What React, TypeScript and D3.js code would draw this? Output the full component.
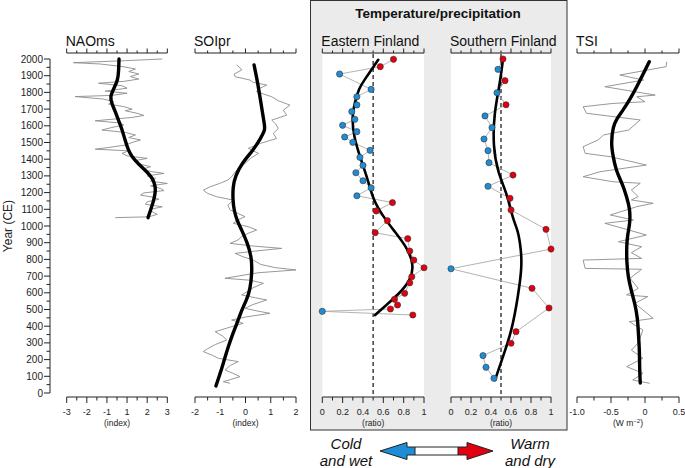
import React from "react";
import * as d3 from "d3";

// ---------- DATA ----------
// [year CE, value]
const naoRaw: [number, number][] = [
  [2000, 2.7], [1990, 0.5], [1978, -2.6], [1970, -1.0], [1955, 0.3], [1940, 1.1], [1925, 0.7], [1910, 1.3],
  [1895, 0.8], [1880, 1.3], [1866, 0.4], [1855, -1.1], [1840, 0.3], [1825, 0.6], [1808, -0.7], [1795, 0.6],
  [1782, -0.3], [1775, -2.5], [1760, -0.8], [1745, -0.2], [1730, -0.5], [1715, 0.4], [1700, 0.9], [1690, 0.5],
  [1675, 1.2], [1662, 1.6], [1650, 0.9], [1630, -1.3], [1618, 0.1], [1605, 0.4], [1590, -0.3], [1575, -0.9],
  [1560, 0.5], [1545, 1.1], [1530, 0.7], [1515, 1.4], [1500, 0.9], [1485, 0.5], [1470, -0.5], [1460, -1.3],
  [1450, 0.7], [1435, 0.3], [1420, 0.6], [1405, 1.8], [1390, 1.0], [1372, 1.3], [1355, 2.0], [1340, 1.5],
  [1325, 2.1], [1315, 2.8], [1300, 1.8], [1285, 2.3], [1268, 2.0], [1255, 3.0], [1240, 2.0], [1225, 2.6],
  [1212, 2.8], [1198, 1.6], [1185, 1.4], [1172, 2.2], [1160, 2.5], [1145, 1.8], [1130, 1.7], [1115, 2.7],
  [1100, 2.0], [1085, 2.1], [1070, 2.4], [1055, 1.9], [1050, -0.1],
];
const naoSmooth: [number, number][] = [
  [2000, 0.12], [1930, 0.1], [1874, 0.05], [1820, -0.2], [1774, -0.42], [1730, -0.3], [1685, -0.1],
  [1630, 0.1], [1585, 0.28], [1515, 0.48], [1460, 0.65], [1415, 0.88], [1370, 1.3], [1335, 1.67],
  [1300, 2.0], [1275, 2.17], [1230, 2.3], [1196, 2.28], [1150, 2.18], [1116, 2.07], [1050, 1.85],
];

const soiRaw: [number, number][] = [
  [1964, -0.35], [1945, -0.2], [1934, -0.15], [1910, -0.45], [1894, -0.41], [1874, 0.18], [1860, 0.3],
  [1844, 0.84], [1820, 0.5], [1804, 0.44], [1774, 1.04], [1750, 1.3], [1724, 1.76], [1694, 1.5], [1664, 1.63],
  [1634, 1.04], [1610, 1.2], [1584, 1.3], [1554, 1.1], [1524, 1.23], [1495, 0.6], [1465, 0.11], [1435, 0.51],
  [1405, 0.2], [1375, -0.02], [1335, -0.35], [1295, -0.55], [1275, -0.7], [1255, -1.02], [1235, -1.4],
  [1215, -1.67], [1195, -1.5], [1175, -1.14], [1155, -0.48], [1125, -0.7], [1096, -0.61], [1075, -0.3],
  [1056, -0.02], [1036, -0.3], [1016, -0.48], [996, 0.1], [976, 0.44], [956, 0.1], [936, -0.15], [916, -0.3],
  [896, -0.61], [880, 0.3], [866, 1.43], [850, 0.4], [836, -0.41], [816, -0.1], [796, 0.31], [770, 0.6],
  [750, 1.2], [737, 2.0], [720, 0.5], [700, -0.3], [687, -0.81], [675, 0.2], [657, 0.71], [630, 0.3],
  [610, 0.1], [587, -0.15], [570, 0.4], [557, 0.84], [530, 0.3], [507, -0.02], [490, 0.5], [477, 0.97],
  [455, 0.0], [437, -0.55], [417, -0.09], [395, -0.6], [367, -1.2], [340, -0.9], [317, -0.74], [290, -1.2],
  [265, -1.5], [248, -1.67], [225, -1.3], [208, -1.08], [188, -0.29], [165, -0.6], [138, -0.81], [118, -0.5],
  [98, -0.22], [80, -0.6], [68, -0.88], [58, -0.61],
];
const soiSmooth: [number, number][] = [
  [1964, 0.34], [1890, 0.44], [1814, 0.53], [1700, 0.65], [1600, 0.76], [1575, 0.77], [1530, 0.62],
  [1455, 0.31], [1375, -0.15], [1300, -0.4], [1235, -0.5], [1160, -0.5], [1096, -0.46], [1030, -0.33],
  [976, -0.15], [900, 0.07], [816, 0.24], [720, 0.26], [617, 0.18], [560, 0.05], [497, -0.15], [420, -0.33],
  [337, -0.55], [260, -0.72], [178, -0.88], [110, -1.02], [42, -1.17],
];

const eastPoints: [number, number][] = [
  [1998, 0.7], [1954, 0.57], [1910, 0.17], [1818, 0.48], [1774, 0.34], [1725, 0.34], [1685, 0.29],
  [1639, 0.32], [1603, 0.2], [1565, 0.34], [1533, 0.22], [1501, 0.3], [1453, 0.47], [1411, 0.37],
  [1363, 0.4], [1319, 0.33], [1271, 0.4], [1229, 0.48], [1181, 0.34], [1140, 0.69], [1090, 0.53],
  [1032, 0.64], [960, 0.52], [924, 0.84], [850, 0.86], [796, 0.9], [750, 1.0], [696, 0.88], [660, 0.86],
  [597, 0.81], [561, 0.71], [527, 0.74], [503, 0.67], [489, 0.0], [467, 0.89],
];
const eastSmooth: [number, number][] = [
  [1995, 0.55], [1950, 0.5], [1880, 0.42], [1825, 0.36], [1740, 0.32], [1655, 0.29], [1535, 0.31],
  [1415, 0.37], [1275, 0.45], [1155, 0.5], [1056, 0.6], [976, 0.7], [866, 0.84], [766, 0.9], [677, 0.87],
  [597, 0.76], [527, 0.63], [467, 0.52],
];

const southPoints: [number, number][] = [
  [2000, 0.52], [1938, 0.47], [1870, 0.54], [1798, 0.46], [1726, 0.55], [1659, 0.34], [1589, 0.41],
  [1521, 0.33], [1451, 0.37], [1379, 0.38], [1305, 0.62], [1238, 0.37], [1166, 0.59], [1096, 0.6],
  [980, 0.95], [862, 1.0], [744, 0.0], [627, 0.81], [509, 0.98], [367, 0.65], [298, 0.6], [224, 0.32],
  [154, 0.35], [88, 0.43],
];
const southSmooth: [number, number][] = [
  [2000, 0.52], [1855, 0.49], [1675, 0.43], [1475, 0.42], [1316, 0.47], [1196, 0.56], [1036, 0.62],
  [976, 0.67], [860, 0.7], [756, 0.71], [577, 0.67], [377, 0.61], [217, 0.52], [78, 0.44],
];

const tsiRaw: [number, number][] = [
  [1984, 0.32], [1954, 0.31], [1904, -0.37], [1874, -0.02], [1834, -0.59], [1784, 0.15], [1774, -0.12],
  [1744, 0.0], [1734, -0.47], [1714, -0.91], [1675, -0.86], [1635, -0.07], [1575, -0.24], [1545, -0.61],
  [1515, -0.69], [1475, -0.91], [1435, -0.88], [1415, -0.51], [1365, 0.02], [1325, -0.66], [1295, -0.91],
  [1265, -0.47], [1256, -0.07], [1216, -0.2], [1176, -0.1], [1156, -0.2], [1136, 0.12], [1116, -0.12],
  [1066, -0.51], [1036, -0.17], [1016, -0.59], [976, -0.24], [946, 0.02], [906, -0.39], [876, -0.05],
  [840, -0.2], [806, -0.05], [796, -0.91], [746, -0.88], [741, -0.05], [687, -0.22], [627, -0.1],
  [587, -0.27], [577, 0.04], [537, -0.15], [447, 0.12], [427, -0.23], [377, -0.03], [300, -0.1],
  [257, -0.2], [208, -0.03], [158, -0.27], [118, -0.03], [78, -0.18], [58, 0.07],
];
const tsiSmooth: [number, number][] = [
  [1984, 0.063], [1900, -0.04], [1834, -0.12], [1760, -0.22], [1695, -0.32], [1640, -0.42], [1595, -0.47],
  [1495, -0.5], [1420, -0.47], [1335, -0.43], [1250, -0.33], [1175, -0.27], [1100, -0.22], [1016, -0.22],
  [940, -0.26], [876, -0.27], [790, -0.27], [696, -0.25], [610, -0.2], [537, -0.15], [450, -0.11],
  [377, -0.1], [250, -0.08], [150, -0.08], [60, -0.07],
];

const naoTickLabels = ["-3", "-2", "-1", "1", "2", "3"];
const soiTickLabels = ["-2", "-1", "0", "1", "2"];
const ratioTickLabels = ["0", "0.2", "0.4", "0.6", "0.8", "1"];
const tsiTickLabels = ["-1.0", "-0.5", "0", "0.5"];
const yearTicks = d3.range(0, 2001, 50);

const FONT = "'Liberation Sans', Arial, Helvetica, sans-serif";
const BLUE = "#1f8dd6";
const RED = "#e00010";

const TOP_AXIS = 53;
const BOT_AXIS = 397;
const yScale = d3.scaleLinear().domain([0, 2000]).range([393, 59]);

type Panel = {
  title: string;
  unit: React.ReactNode;
  x: d3.ScaleLinear<number, number>;
  ticks: number[];
  labels: string[];
};

function makeTicks(domain: [number, number], n: number) {
  return d3.range(n + 1).map((i) => domain[0] + ((domain[1] - domain[0]) * i) / n);
}

function HAxes({ p }: { p: Panel }) {
  const [r0, r1] = p.x.range();
  const nMaj = p.labels.length - 1;
  const step = (p.ticks.length - 1) / nMaj;
  return (
    <g>
      <text x={r0 - 1} y={46} fontSize={14} fontFamily={FONT} fill="#111">{p.title}</text>
      <line x1={r0} x2={r1} y1={TOP_AXIS} y2={TOP_AXIS} stroke="#222" strokeWidth={1} />
      <line x1={r0} x2={r1} y1={BOT_AXIS} y2={BOT_AXIS} stroke="#222" strokeWidth={1} />
      {p.ticks.map((t, i) => {
        const major = i % step === 0;
        const x = p.x(t);
        return (
          <g key={i}>
            <line x1={x} x2={x} y1={TOP_AXIS} y2={TOP_AXIS - (major ? 4.5 : 2.5)} stroke="#222" strokeWidth={1} />
            <line x1={x} x2={x} y1={BOT_AXIS} y2={BOT_AXIS + (major ? 6 : 3.5)} stroke="#222" strokeWidth={1} />
            {major && (
              <text x={x} y={415} fontSize={9} fontFamily={FONT} textAnchor="middle" fill="#222">
                {p.labels[i / step]}
              </text>
            )}
          </g>
        );
      })}
      <text x={(r0 + r1) / 2} y={426} fontSize={8.5} fontFamily={FONT} textAnchor="middle" fill="#222">
        {p.unit}
      </text>
    </g>
  );
}

function lineGen(x: d3.ScaleLinear<number, number>, smooth: boolean) {
  const g = d3.line<[number, number]>().x((d) => x(d[1])).y((d) => yScale(d[0]));
  if (smooth) g.curve(d3.curveBasis);
  return g;
}

export default function App() {
  const nao: Panel = {
    title: "NAOms",
    unit: "(index)",
    x: d3.scaleLinear().domain([-3, 3]).range([66.7, 167.3]),
    ticks: makeTicks([-3, 3], 10),
    labels: naoTickLabels,
  };
  const soi: Panel = {
    title: "SOIpr",
    unit: "(index)",
    x: d3.scaleLinear().domain([-2, 2]).range([195, 296]),
    ticks: makeTicks([-2, 2], 8),
    labels: soiTickLabels,
  };
  const east: Panel = {
    title: "Eastern Finland",
    unit: "(ratio)",
    x: d3.scaleLinear().domain([0, 1]).range([322.3, 424]),
    ticks: makeTicks([0, 1], 10),
    labels: ratioTickLabels,
  };
  const south: Panel = {
    title: "Southern Finland",
    unit: "(ratio)",
    x: d3.scaleLinear().domain([0, 1]).range([451, 551]),
    ticks: makeTicks([0, 1], 10),
    labels: ratioTickLabels,
  };
  const tsi: Panel = {
    title: "TSI",
    unit: (
      <>
        (W m<tspan fontSize={6} dy={-3}>−2</tspan>
        <tspan dy={3}>)</tspan>
      </>
    ),
    x: d3.scaleLinear().domain([-1, 0.5]).range([577, 679]),
    ticks: makeTicks([-1, 0.5], 6),
    labels: tsiTickLabels,
  };

  const ratioPanel = (p: Panel, pts: [number, number][], sm: [number, number][]) => {
    const [r0, r1] = p.x.range();
    return (
      <g>
        <rect x={r0} y={TOP_AXIS + 1} width={r1 - r0} height={BOT_AXIS - TOP_AXIS - 1} fill="#fff" />
        <line x1={p.x(0.5)} x2={p.x(0.5)} y1={TOP_AXIS + 1} y2={BOT_AXIS} stroke="#333" strokeWidth={1.4} strokeDasharray="4,3" />
        <path d={lineGen(p.x, false)(pts) || ""} fill="none" stroke="#aaa" strokeWidth={0.9} />
        <path d={lineGen(p.x, true)(sm) || ""} fill="none" stroke="#000" strokeWidth={2.6} strokeLinecap="round" />
        {pts.map((d, i) => (
          <circle key={i} cx={p.x(d[1])} cy={yScale(d[0])} r={3.1} fill={d[1] < 0.5 ? BLUE : RED} stroke="#333" strokeWidth={0.6} />
        ))}
        <HAxes p={p} />
      </g>
    );
  };

  const seriesPanel = (p: Panel, raw: [number, number][], sm: [number, number][]) => (
    <g>
      <path d={lineGen(p.x, false)(raw) || ""} fill="none" stroke="#8c8c8c" strokeWidth={0.9} />
      <path d={lineGen(p.x, true)(sm) || ""} fill="none" stroke="#000" strokeWidth={3.4} strokeLinecap="round" />
      <HAxes p={p} />
    </g>
  );

  return (
    <svg width={685} height={468} style={{ position: "absolute", left: 0, top: 0, background: "#fff" }}>
      {/* Temperature/precipitation box */}
      <rect x={310.5} y={0.5} width={256.5} height={429.5} fill="#ebebeb" stroke="#333" strokeWidth={1} />
      <text x={438} y={18} fontSize={13.5} fontWeight="bold" fontFamily={FONT} textAnchor="middle" fill="#111">
        Temperature/precipitation
      </text>

      {/* Year axis */}
      <line x1={50} x2={50} y1={yScale(2000)} y2={yScale(0)} stroke="#222" strokeWidth={1} />
      {yearTicks.map((t) => {
        const major = t % 100 === 0;
        return (
          <g key={t}>
            <line x1={50} x2={50 - (major ? 6 : 3.5)} y1={yScale(t)} y2={yScale(t)} stroke="#222" strokeWidth={1} />
            {major && (
              <text x={43} y={yScale(t) + 3.5} fontSize={10} fontFamily={FONT} textAnchor="end" fill="#222">
                {t}
              </text>
            )}
          </g>
        );
      })}
      <text
        transform={`translate(12,${yScale(1000)}) rotate(-90)`}
        fontSize={12}
        fontFamily={FONT}
        textAnchor="middle"
        fill="#222"
      >
        Year (CE)
      </text>

      {seriesPanel(nao, naoRaw, naoSmooth)}
      {seriesPanel(soi, soiRaw, soiSmooth)}
      {ratioPanel(east, eastPoints, eastSmooth)}
      {ratioPanel(south, southPoints, southSmooth)}
      {seriesPanel(tsi, tsiRaw, tsiSmooth)}

      {/* Legend */}
      <g fontFamily={FONT} fontStyle="italic" fontSize={15} fill="#111" textAnchor="middle">
        <text x={346} y={449}>Cold</text>
        <text x={346} y={466}>and wet</text>
        <text x={530} y={449}>Warm</text>
        <text x={530} y={466}>and dry</text>
      </g>
      <g>
        <polygon points="380,451 407,442.5 407,447 415,447 415,455 407,455 407,459.5" fill={BLUE} />
        <rect x={415} y={447} width={43} height={8} fill="#fff" />
        <polygon points="458,447 467,447 467,442.5 493,451 467,459.5 467,455 458,455" fill={RED} />
        <polygon
          points="380,451 407,442.5 407,447 467,447 467,442.5 493,451 467,459.5 467,455 407,455 407,459.5"
          fill="none"
          stroke="#222"
          strokeWidth={1}
        />
        <line x1={415} x2={415} y1={447} y2={455} stroke="#222" strokeWidth={1} />
        <line x1={458} x2={458} y1={447} y2={455} stroke="#222" strokeWidth={1} />
      </g>
    </svg>
  );
}
